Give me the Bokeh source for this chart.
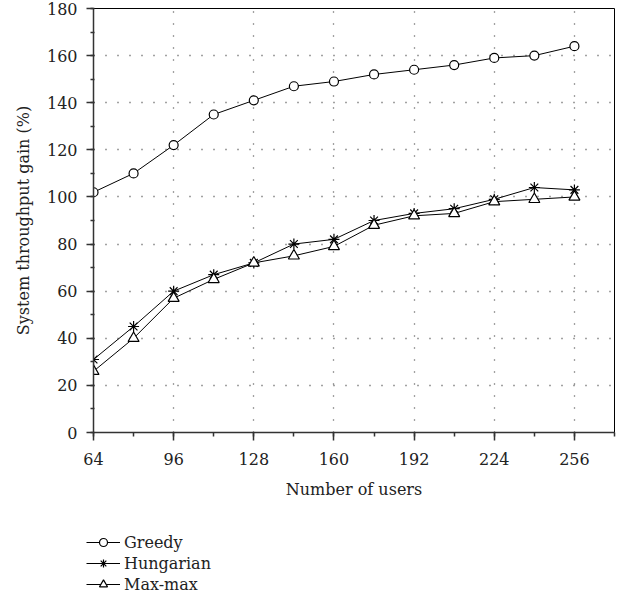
from bokeh.plotting import figure
from bokeh.layouts import column
from bokeh.models import FixedTicker, Legend, LegendItem, Range1d
from bokeh.embed import file_html
from bokeh.resources import INLINE

# ---- data ----
users = [64, 80, 96, 112, 128, 144, 160, 176, 192, 208, 224, 240, 256]
greedy = [102, 110, 122, 135, 141, 147, 149, 152, 154, 156, 159, 160, 164]
hungarian = [31, 45, 60, 67, 72, 80, 82, 90, 93, 95, 99, 104, 103]
maxmax = [26, 40, 57, 65, 72, 75, 79, 88, 92, 93, 98, 99, 100]
series_names = ["Greedy", "Hungarian", "Max-max"]

x_major = [64, 96, 128, 160, 192, 224, 256]
x_minor = [64, 80, 96, 112, 128, 144, 160, 176, 192, 208, 224, 240, 256, 272]
y_major = [0, 20, 40, 60, 80, 100, 120, 140, 160, 180]
y_minor = [0, 10, 20, 30, 40, 50, 60, 70, 80, 90, 100, 110, 120, 130, 140, 150, 160, 170, 180]
x_grid = [96, 128, 160, 192, 224, 256]
y_grid = [20, 40, 60, 80, 100, 120, 140, 160]

FONT = "DejaVu Serif"
FS = "16px"

p = figure(width=620, height=520,
           x_range=Range1d(64, 272), y_range=Range1d(0, 180),
           output_backend="svg", toolbar_location=None,
           min_border_left=93, min_border_right=6,
           min_border_top=8, min_border_bottom=88)
p.frame_align = False

p.background_fill_color = "white"
p.border_fill_color = "white"
p.outline_line_color = "black"
p.outline_line_width = 1

# axes
p.xaxis.ticker = FixedTicker(ticks=x_major, minor_ticks=x_minor)
p.yaxis.ticker = FixedTicker(ticks=y_major, minor_ticks=y_minor)
p.xaxis.axis_label = "Number of users"
p.yaxis.axis_label = "System throughput gain (%)"
for ax in (p.xaxis, p.yaxis):
    ax.axis_label_text_font = FONT
    ax.axis_label_text_font_size = FS
    ax.axis_label_text_font_style = "normal"
    ax.axis_label_text_color = "#222222"
    ax.major_label_text_font = FONT
    ax.major_label_text_font_size = FS
    ax.major_label_text_color = "#222222"
    ax.axis_line_color = "#333333"
    ax.axis_line_width = 1.5
    ax.major_tick_line_color = "#333333"
    ax.minor_tick_line_color = "#333333"
    ax.major_tick_line_width = 1.5
    ax.minor_tick_line_width = 1.5
    ax.major_tick_in = 0
    ax.minor_tick_in = 0

p.xaxis.major_tick_out = 8
p.xaxis.minor_tick_out = 4
p.xaxis.major_label_standoff = 12
p.xaxis.axis_label_standoff = 12
p.yaxis.major_tick_out = 7
p.yaxis.minor_tick_out = 3
p.yaxis.minor_tick_in = 1
p.yaxis.major_label_standoff = 9
p.yaxis.axis_label_standoff = 11

# grid
p.xgrid.ticker = FixedTicker(ticks=x_grid)
p.ygrid.ticker = FixedTicker(ticks=y_grid)
for g in (p.xgrid, p.ygrid):
    g.grid_line_color = "#444444"
    g.grid_line_dash = "1 11"
    g.grid_line_width = 1.3

line_kw = dict(line_color="black", line_width=1)
mk = [dict(marker="circle", size=9, fill_color="white", line_color="black", line_width=1.2),
      dict(marker="asterisk", size=11, line_color="black", line_width=1.2),
      dict(marker="triangle", size=11, fill_color="white", line_color="black", line_width=1.2)]

# series
for ys, m in zip([greedy, hungarian, maxmax], mk):
    p.line(users, ys, **line_kw)
    p.scatter(users, ys, **m)

# legend strip below the plot: same series, drawn outside this strip's visible range
q = figure(width=620, height=85, x_range=Range1d(0, 1), y_range=Range1d(0, 1),
           output_backend="svg", toolbar_location=None,
           x_axis_type=None, y_axis_type=None,
           min_border_left=0, min_border_right=0, min_border_top=0, min_border_bottom=0)
q.frame_align = False
q.outline_line_color = None
q.grid.visible = False
items = []
for name, ys, m in zip(series_names, [greedy, hungarian, maxmax], mk):
    lr = q.line(users, ys, **line_kw)
    sr = q.scatter(users, ys, **m)
    items.append(LegendItem(label=name, renderers=[lr, sr]))

legend = Legend(items=items, location=(86, 11), orientation="vertical",
                glyph_width=34, glyph_height=20, label_height=20,
                spacing=1, padding=0, margin=0, label_standoff=4,
                border_line_color=None, background_fill_alpha=0,
                label_text_font=FONT, label_text_font_size=FS,
                label_text_color="#222222")
q.add_layout(legend)

open("out.html", "w").write(file_html(column(p, q), INLINE))
